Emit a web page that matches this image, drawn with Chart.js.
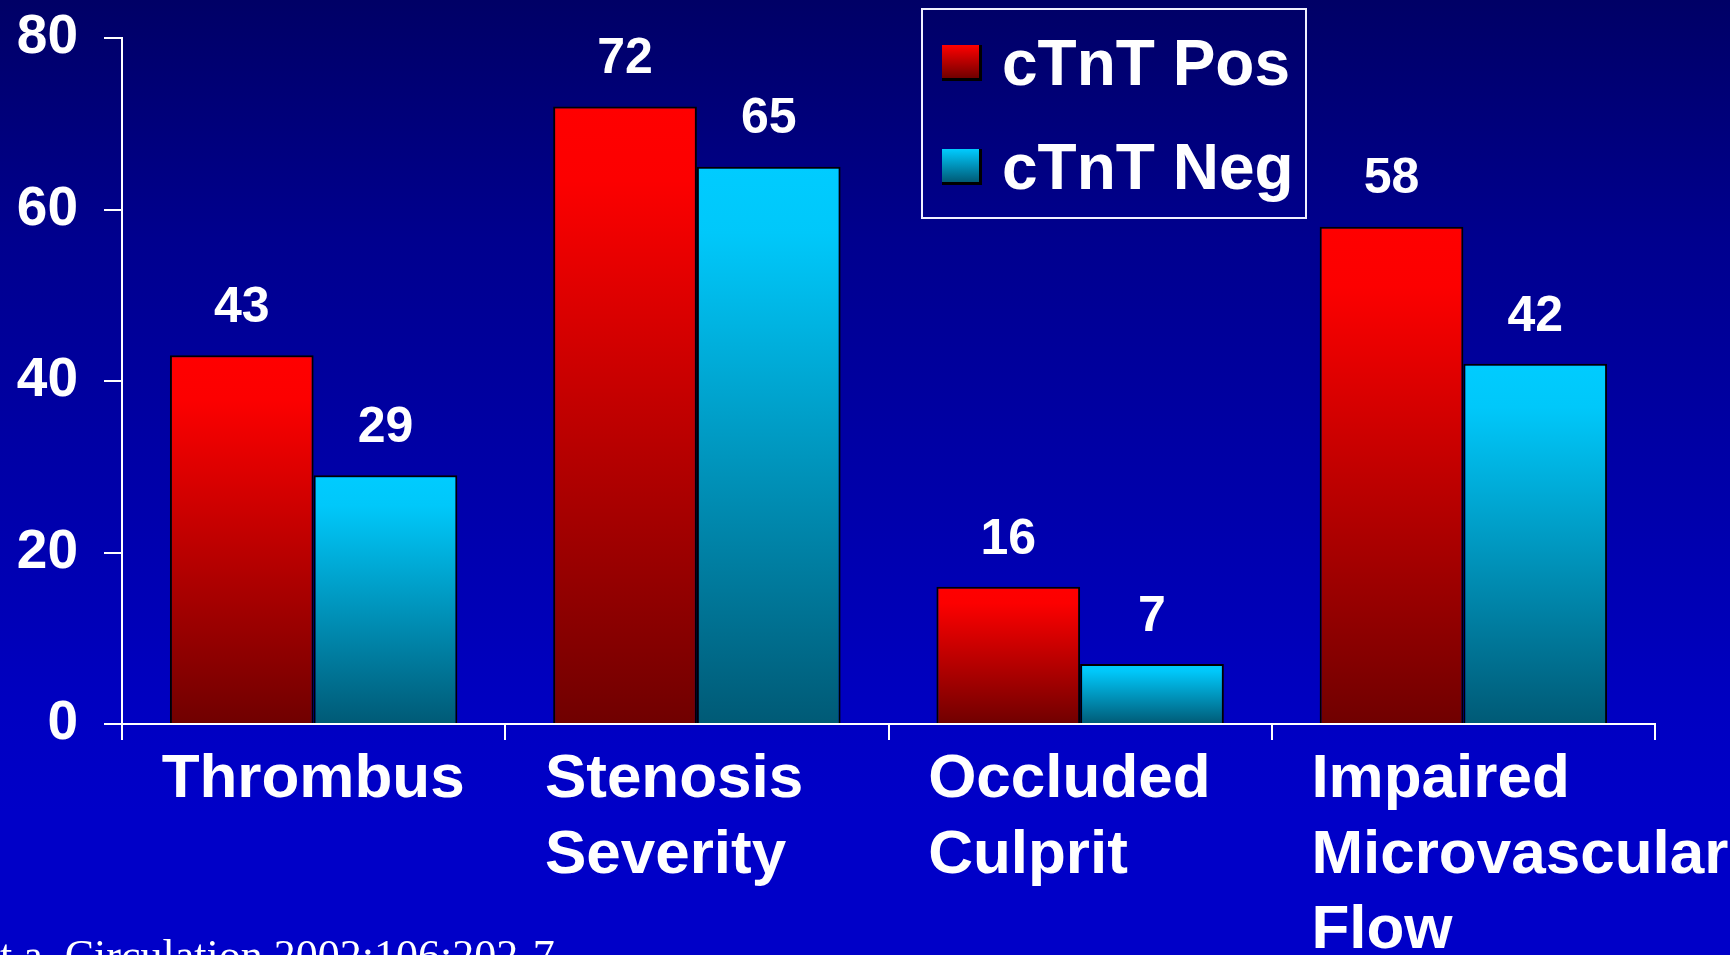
<!DOCTYPE html>
<html>
<head>
<meta charset="utf-8">
<script src="https://cdn.jsdelivr.net/npm/chart.js@4.4.1/dist/chart.umd.min.js"></script>
<style>
  html, body { margin: 0; padding: 0; }
  body {
    width: 1730px; height: 955px; overflow: hidden; position: relative;
    background: linear-gradient(to bottom, #000066 0%, #00008e 25%, #0000a8 50%, #0000c2 75%, #0000c8 85%, #0000c8 100%);
    font-family: "Liberation Sans", Arial, sans-serif;
  }
  #wrap { position: absolute; left: 0; top: 0; width: 1730px; height: 955px; }
  #legend {
    position: absolute; left: 921px; top: 8px; width: 386px; height: 211px;
    box-sizing: border-box; border: 2px solid #f0f0ff;
  }
  .item {
    position: absolute; left: 19px; height: 64px; display: flex; align-items: center;
    color: #fff; font-weight: bold; font-size: 64px; line-height: 64px; white-space: nowrap;
  }
  .swatch {
    width: 40px; height: 36px; margin-right: 20px; box-sizing: border-box;
    border-right: 3px solid #000; border-bottom: 3px solid #000;
  }
  #note {
    position: absolute; left: 0; top: 934px; color: #fff; white-space: nowrap;
    font-family: "Liberation Serif", "Times New Roman", serif; font-size: 44px; line-height: 44px;
  }
</style>
</head>
<body>
<div id="wrap"><canvas id="chart"></canvas></div>
<div id="legend"></div>
<div id="note">t a. Circulation 2002;106:202-7</div>
<script>
// data
const categories = [
  ['Thrombus'],
  ['Stenosis', 'Severity'],
  ['Occluded', 'Culprit'],
  ['Impaired', 'Microvascular', 'Flow'],
];
const seriesNames = ['cTnT Pos', 'cTnT Neg'];
const posValues = [43, 72, 16, 58];
const negValues = [29, 65, 7, 42];
const yTicks = [0, 20, 40, 60, 80];

const FONT = '"Liberation Sans", Arial, sans-serif';
const redStops = ['#ff0000', '#fc0000', '#700000'];
const cyanStops = ['#00ccff', '#00c8fa', '#005a76'];

// vertical gradient from bar top down to the zero line
function barGradient(stops) {
  return (ctx) => {
    const chart = ctx.chart;
    const y = chart.scales.y;
    if (!y || ctx.type !== 'data' || !ctx.parsed) return stops[0];
    const top = y.getPixelForValue(ctx.parsed.y);
    const base = y.getPixelForValue(0);
    if (!isFinite(top) || !isFinite(base) || base - top < 1) return stops[0];
    const g = chart.ctx.createLinearGradient(0, top, 0, base);
    g.addColorStop(0, stops[0]);
    g.addColorStop(0.12, stops[1]);
    g.addColorStop(1, stops[2]);
    return g;
  };
}

const valueLabels = {
  id: 'valueLabels',
  afterDatasetsDraw(chart) {
    const ctx = chart.ctx;
    ctx.save();
    ctx.fillStyle = '#fff';
    ctx.font = 'bold 50px ' + FONT;
    ctx.textAlign = 'center';
    ctx.textBaseline = 'middle';
    chart.data.datasets.forEach((ds, di) => {
      chart.getDatasetMeta(di).data.forEach((bar, i) => {
        ctx.fillText(String(ds.data[i]), bar.x, bar.y - 47);
      });
    });
    ctx.restore();
  }
};

new Chart(document.getElementById('chart'), {
  type: 'bar',
  data: {
    labels: categories,
    datasets: [
      { label: seriesNames[0], data: posValues, backgroundColor: barGradient(redStops) },
      { label: seriesNames[1], data: negValues, backgroundColor: barGradient(cyanStops) },
    ],
  },
  options: {
    responsive: true,
    maintainAspectRatio: false,
    animation: false,
    layout: { padding: { top: 38, right: 75, left: 0, bottom: 0 } },
    datasets: {
      bar: {
        categoryPercentage: 0.75,
        barPercentage: 1.0,
        borderColor: '#000',
        borderWidth: 2,
        borderSkipped: 'bottom',
      },
    },
    plugins: {
      legend: { display: false },
      tooltip: { enabled: false },
    },
    events: [],
    scales: {
      x: {
        grid: { display: true, drawOnChartArea: false, color: '#fff', lineWidth: 2, tickLength: 16, offset: true },
        border: { color: '#fff', width: 2 },
        ticks: {
          color: '#fff',
          font: { family: FONT, size: 62, weight: 'bold', lineHeight: 1.22 },
          align: 'start',
          labelOffset: -152,
          padding: 2,
          maxRotation: 0,
          autoSkip: false,
        },
        afterFit(scale) {
          scale.height = 231;
          scale.paddingLeft = 0;
          scale.paddingRight = 0;
        },
      },
      y: {
        min: yTicks[0],
        max: yTicks[yTicks.length - 1],
        afterBuildTicks(scale) { scale.ticks = yTicks.map(v => ({ value: v })); },
        grid: { drawOnChartArea: false, color: '#fff', lineWidth: 2, tickLength: 18 },
        border: { color: '#fff', width: 2 },
        ticks: {
          color: '#fff',
          padding: 26,
          font: { family: FONT, size: 55, weight: 'bold' },
        },
        afterFit(scale) {
          scale.width = 122;
          scale.paddingTop = 0;
          scale.paddingBottom = 0;
        },
      },
    },
  },
  plugins: [valueLabels],
});

// legend drawn as html, built from the series names
const legendEl = document.getElementById('legend');
[[seriesNames[0], redStops], [seriesNames[1], cyanStops]].forEach(([name, stops], i) => {
  const item = document.createElement('div');
  item.className = 'item';
  item.style.top = (21 + i * 104) + 'px';
  const sw = document.createElement('span');
  sw.className = 'swatch';
  sw.style.background = `linear-gradient(to bottom, ${stops[0]}, ${stops[2]})`;
  item.appendChild(sw);
  item.appendChild(document.createTextNode(name));
  legendEl.appendChild(item);
});
</script>
</body>
</html>
